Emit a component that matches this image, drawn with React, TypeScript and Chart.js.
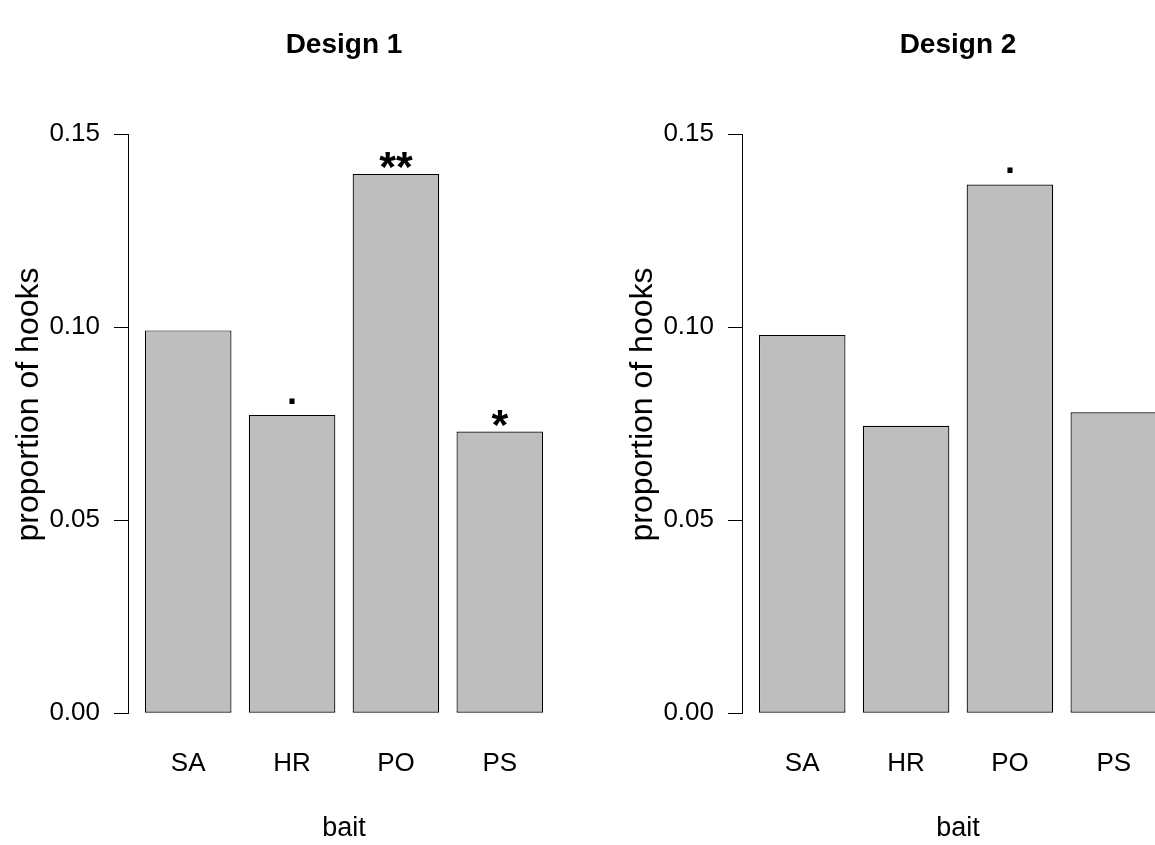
import React, { useEffect, useRef } from "react";
import { Chart, registerables } from "chart.js";

Chart.register(...registerables);

// ---- data ----
const categories = ["SA", "HR", "PO", "PS"];
const design1Values = [0.0992, 0.0773, 0.1397, 0.073];
const design2Values = [0.098, 0.0745, 0.137, 0.078];
const design1Marks = ["", ".", "**", "*"];
const design2Marks = ["", "", ".", ""];
const yLimits = [0, 0.16];
const yTickValues = [0, 0.05, 0.1, 0.15];
const yTickLabels = ["0.00", "0.05", "0.10", "0.15"];
const panelTitles = ["Design 1", "Design 2"];
const xTitle = "bait";
const yTitle = "proportion of hooks";

// ---- layout / style ----
const FONT = "'Liberation Sans', Arial, Helvetica, sans-serif";
const TICK_FS = 26;
const XLAB_FS = 27;
const YLAB_FS = 32;
const TITLE_FS = 28;
const STAR_FS = 43;
const DOT_FS = 36;
const PANEL_W = 614;
const H = 845;
const PLOT_LEFT = 129;
const PLOT_RIGHT = 559;
const PLOT_TOP = 71;
const PLOT_BOTTOM = 738;
const TITLE_MID = 45;
const BAR_W = 1;
const SPACE = 0.2;

const axisLinePlugin = {
  id: "rAxisLine",
  afterDraw(chart: any) {
    const y = chart.scales.y;
    const ctx = chart.ctx;
    const x = chart.chartArea.left - 0.5;
    ctx.save();
    ctx.strokeStyle = "#000";
    ctx.lineWidth = 1;
    ctx.beginPath();
    ctx.moveTo(x, Math.round(y.getPixelForValue(yTickValues[0])) + 0.5);
    ctx.lineTo(x, Math.round(y.getPixelForValue(yTickValues[yTickValues.length - 1])) + 0.5);
    ctx.stroke();
    ctx.restore();
  },
};

function makeMarksPlugin(marks: string[]) {
  return {
    id: "sigMarks",
    afterDatasetsDraw(chart: any) {
      const meta = chart.getDatasetMeta(0);
      const ctx = chart.ctx;
      ctx.save();
      ctx.fillStyle = "#000";
      ctx.textAlign = "center";
      ctx.textBaseline = "alphabetic";
      meta.data.forEach((bar: any, i: number) => {
        const t = marks[i];
        if (!t) return;
        const fs = t.indexOf("*") >= 0 ? STAR_FS : DOT_FS;
        ctx.font = `bold ${fs}px ${FONT}`;
        const m = ctx.measureText(t);
        const asc = m.actualBoundingBoxAscent;
        const desc = m.actualBoundingBoxDescent;
        const centerY = bar.y - 14;
        const baseline = centerY + (asc - desc) / 2;
        ctx.fillText(t, bar.x, baseline);
      });
      ctx.restore();
    },
  };
}

function makeConfig(title: string, values: number[], marks: string[]) {
  const step = BAR_W + SPACE;
  const centers = categories.map((_, i) => SPACE + BAR_W / 2 + i * step);
  const lo = SPACE;
  const hi = categories.length * step;
  const pad = (hi - lo) * 0.04;
  const yPad = (yLimits[1] - yLimits[0]) * 0.04;
  const tlh = TITLE_FS * 1.2;
  const tTop = TITLE_MID - tlh / 2;
  return {
    type: "bar",
    data: {
      datasets: [
        {
          data: values.map((v, i) => ({ x: centers[i], y: v })),
          backgroundColor: "#bebebe",
          borderColor: "#000",
          borderWidth: 1.2,
          borderSkipped: false,
          categoryPercentage: 1,
          barPercentage: BAR_W / step,
        },
      ],
    },
    options: {
      animation: false,
      responsive: false,
      maintainAspectRatio: false,
      devicePixelRatio: 1,
      layout: { padding: { top: 0, left: 0, right: PANEL_W - PLOT_RIGHT, bottom: 0 } },
      plugins: {
        legend: { display: false },
        tooltip: { enabled: false },
        title: {
          display: true,
          text: title,
          fullSize: false,
          color: "#000",
          font: { family: FONT, size: TITLE_FS, weight: "bold", lineHeight: 1.2 },
          padding: { top: tTop, bottom: PLOT_TOP - tTop - tlh },
        },
      },
      scales: {
        x: {
          type: "linear",
          bounds: "data",
          offset: false,
          min: lo - pad,
          max: hi + pad,
          grid: { display: false, drawTicks: false, offset: false },
          border: { display: false },
          afterBuildTicks: (s: any) => {
            s.ticks = centers.map((v) => ({ value: v }));
          },
          afterFit: (s: any) => {
            s.height = H - PLOT_BOTTOM;
          },
          ticks: {
            autoSkip: false,
            maxRotation: 0,
            padding: 10,
            color: "#000",
            font: { family: FONT, size: TICK_FS, lineHeight: 1.2 },
            callback: (_v: any, i: number) => categories[i],
          },
          title: {
            display: true,
            text: xTitle,
            color: "#000",
            font: { family: FONT, size: XLAB_FS, lineHeight: 1.2 },
            padding: { top: 0, bottom: 0 },
          },
        },
        y: {
          type: "linear",
          bounds: "data",
          min: yLimits[0] - yPad,
          max: yLimits[1] + yPad,
          grid: { drawOnChartArea: false, drawTicks: true, tickLength: 15, color: "#000", lineWidth: 1 },
          border: { display: false },
          afterBuildTicks: (s: any) => {
            s.ticks = yTickValues.map((v) => ({ value: v }));
          },
          afterFit: (s: any) => {
            s.width = PLOT_LEFT;
          },
          ticks: {
            autoSkip: false,
            padding: 14,
            color: "#000",
            font: { family: FONT, size: TICK_FS, lineHeight: 1.2 },
            callback: (_v: any, i: number) => yTickLabels[i],
          },
          title: {
            display: true,
            text: yTitle,
            color: "#000",
            font: { family: FONT, size: YLAB_FS, lineHeight: 1.2 },
            padding: { top: 10, bottom: 0 },
          },
        },
      },
    },
    plugins: [axisLinePlugin, makeMarksPlugin(marks)],
  };
}

export default function App() {
  const ref1 = useRef<HTMLCanvasElement | null>(null);
  const ref2 = useRef<HTMLCanvasElement | null>(null);

  useEffect(() => {
    const c1 = new Chart(ref1.current as HTMLCanvasElement, makeConfig(panelTitles[0], design1Values, design1Marks) as any);
    const c2 = new Chart(ref2.current as HTMLCanvasElement, makeConfig(panelTitles[1], design2Values, design2Marks) as any);
    return () => {
      c1.destroy();
      c2.destroy();
    };
  }, []);

  return (
    <div
      style={{
        position: "fixed",
        left: 0,
        top: 0,
        width: 1155,
        height: H,
        overflow: "hidden",
        background: "#fff",
      }}
    >
      <canvas ref={ref1} width={PANEL_W} height={H} style={{ position: "absolute", left: 0, top: 0 }} />
      <canvas ref={ref2} width={PANEL_W} height={H} style={{ position: "absolute", left: PANEL_W, top: 0 }} />
    </div>
  );
}
